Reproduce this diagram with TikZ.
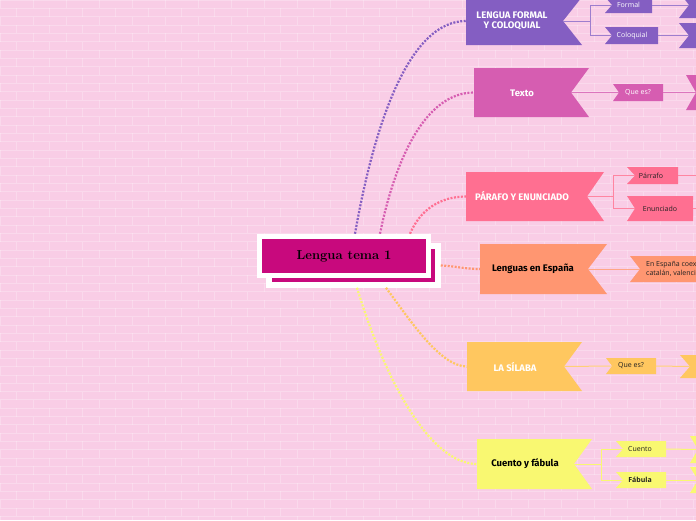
\documentclass[tikz,border=0pt]{standalone}
\usepackage{fontspec}
\newfontfamily\subfont{Open Sans}
\newfontfamily\brfont{Fira Sans}
\definecolor{bg}{HTML}{F9CDE6}
\definecolor{cA}{HTML}{845EC2}
\definecolor{cB}{HTML}{D65DB1}
\definecolor{cC}{HTML}{FF6F91}
\definecolor{cD}{HTML}{FF9671}
\definecolor{cE}{HTML}{FFC75F}
\definecolor{cF}{HTML}{F9F871}
\definecolor{cM}{HTML}{C8097D}
\definecolor{dk}{HTML}{222222}
\tikzset{
  brick/.style={white, opacity=0.25, line width=0.7pt},
  dotline/.style={line width=2.2pt, dash pattern=on 2pt off 1.5pt},
  subline/.style={line width=1pt},
  brtext/.style={font=\brfont\bfseries\fontsize{9.5}{10.5}\selectfont, align=center, inner sep=0pt},
  subtext/.style={font=\subfont\fontsize{7}{8.5}\selectfont, inner sep=0pt},
  centerbox/.style={fill=cM, draw=white, line width=5.5pt, minimum width=169pt, minimum height=39pt, inner sep=0pt}
}
\newcommand\mflag[7]{%
  \fill[#7] (#2,#3) -- (#4,#3) -- (#5,{(#3+#6)/2}) -- (#4,#6) -- (#2,#6) -- cycle;
  \coordinate (#1-n) at (#5,{(#3+#6)/2});
  \coordinate (#1-w) at (#2,{(#3+#6)/2});}
\newcommand\sflag[7]{%
  \fill[#7] (#2,#3) -- (#4,#3) -- (#4,#5) -- (#2,#5) -- ({#2+#6},{(#3+#5)/2}) -- cycle;
  \coordinate (#1-w) at ({#2+#6},{(#3+#5)/2});
  \coordinate (#1-e) at (#4,{(#3+#5)/2});}
\begin{document}
\begin{tikzpicture}[x=1pt,y=-1pt]
\useasboundingbox (0,0) rectangle (696,520);
\fill[bg] (0,0) rectangle (696,520);
\foreach \r in {0,...,62} {
  \draw[brick] (0,{\r*8.33}) -- (696,{\r*8.33});
  \foreach \c in {0,...,21} {
    \draw[brick] ({\c*33+mod(\r,2)*16.5},{\r*8.33}) -- ++(0,8.33);
  }
}
% main branches
\mflag{A}{466}{-3}{582}{563}{45}{cA}
\mflag{B}{474}{68}{589}{571}{117}{cB}
\mflag{C}{466}{172}{604}{587}{221}{cC}
\mflag{D}{480}{244}{607}{588}{294}{cD}
\mflag{E}{467}{342}{582}{564}{391}{cE}
\mflag{F}{477}{439}{592}{574}{489}{cF}
% central
\node[centerbox] (back) at (353.5,265.5) {};
\node[centerbox, font=\bfseries\fontsize{13}{15}\selectfont, text=black] (center) at (344,256) {Lengua tema 1};
% main connectors
\draw[dotline, cA] ([xshift=11pt]center.north) .. controls (375,120) and (410,21) .. (A-w);
\draw[dotline, cB] ([xshift=36pt]center.north) .. controls (395,160) and (425,92.5) .. (B-w);
\draw[dotline, cC] ([xshift=66pt]center.north) .. controls (420,210) and (440,196.5) .. (C-w);
\draw[dotline, cD] (back.east) .. controls (455,266) and (465,269) .. (D-w);
\draw[dotline, cE] ([xshift=32.5pt]back.south) .. controls (410,320) and (440,366.5) .. (E-w);
\draw[dotline, cF] ([xshift=3.5pt]back.south) .. controls (385,380) and (430,464) .. (F-w);
% sub flags
\sflag{A1}{605}{-3}{652}{13}{7}{cA}
\sflag{A2}{605}{27}{658}{44}{7}{cA}
\sflag{A1x}{679}{-8}{700}{18}{10}{cA}
\sflag{A2x}{679}{23}{700}{48}{10}{cA}
\sflag{B1}{613}{84}{663}{101}{6}{cB}
\sflag{B1x}{686}{75}{700}{110}{10}{cB}
\sflag{C1}{627}{167}{678}{184}{8}{cC}
\sflag{C2}{627}{196}{693}{221}{8}{cC}
\sflag{D1}{630}{256}{700}{282}{10}{cD}
\sflag{E1}{606}{358}{656}{374}{6}{cE}
\sflag{E1x}{680}{355}{700}{378}{10}{cE}
\sflag{F1}{616}{441}{666}{457}{7}{cF}
\sflag{F2}{616}{472}{666}{488}{7}{cF}
\sflag{F1x}{690}{436}{700}{463}{8}{cF}
\sflag{F2x}{690}{467}{700}{493}{8}{cF}
% sub connectors
\draw[subline, cA!80!white] (A-n) -- ++(27,0) |- (A1-w);
\draw[subline, cA!80!white] (A-n) -- ++(27,0) |- (A2-w);
\draw[subline, cA!80!white] (A1-e) -- (A1x-w);
\draw[subline, cA!80!white] (A2-e) -- (A2x-w);
\draw[subline, cB!85!white] (B-n) -- (B1-w);
\draw[subline, cB!85!white] (B1-e) -- (B1x-w);
\draw[subline, cC!85!white] (C-n) -- ++(26,0) |- (C1-w);
\draw[subline, cC!85!white] (C-n) -- ++(26,0) |- (C2-w);
\draw[subline, cC!85!white] (C1-e) -- ++(20,0);
\draw[subline, cC!85!white] (C2-e) -- ++(5,0);
\draw[subline, cD!85!white] (D-n) -- (D1-w);
\draw[subline, cE!85!white] (E-n) -- (E1-w);
\draw[subline, cE!85!white] (E1-e) -- (E1x-w);
\draw[subline, cF] (F-n) -- ++(27,0) |- (F1-w);
\draw[subline, cF] (F-n) -- ++(27,0) |- (F2-w);
\draw[subline, cF] (F1-e) -- (F1x-w);
\draw[subline, cF] (F2-e) -- (F2x-w);
% branch texts
\node[brtext, text=white] (tA) at (512,21) {LENGUA FORMAL\\Y COLOQUIAL};
\node[brtext, text=white] (tB) at (522,93) {Texto};
\node[brtext, text=white] (tC) at (522,196.5) {PÁRAFO Y ENUNCIADO};
\node[brtext, text=black] (tD) at (533,269) {Lenguas en España};
\node[brtext, text=white] (tE) at (515,367) {LA SÍLABA};
\node[brtext, text=black] (tF) at (525,464) {Cuento y fábula};
% sub texts
\node[subtext, text=white] (sA1) at (628.5,5) {Formal};
\node[subtext, text=white] (sA2) at (632,35.5) {Coloquial};
\node[subtext, text=white] (sB1) at (638,92.5) {Que es?};
\node[subtext, text=dk] (sC1) at (651,175.5) {Párrafo};
\node[subtext, text=dk] (sC2) at (660,208.5) {Enunciado};
\node[subtext, text=dk, anchor=west, align=left] (sD1) at (646,269) {En España coex\\catalán, valenci};
\node[subtext, text=dk] (sE1) at (631,366) {Que es?};
\node[subtext, text=dk] (sF1) at (640,449) {Cuento};
\node[subtext, text=dk, font=\subfont\bfseries\fontsize{7}{8.5}\selectfont] (sF2) at (640,480) {Fábula};
\end{tikzpicture}
\end{document}
